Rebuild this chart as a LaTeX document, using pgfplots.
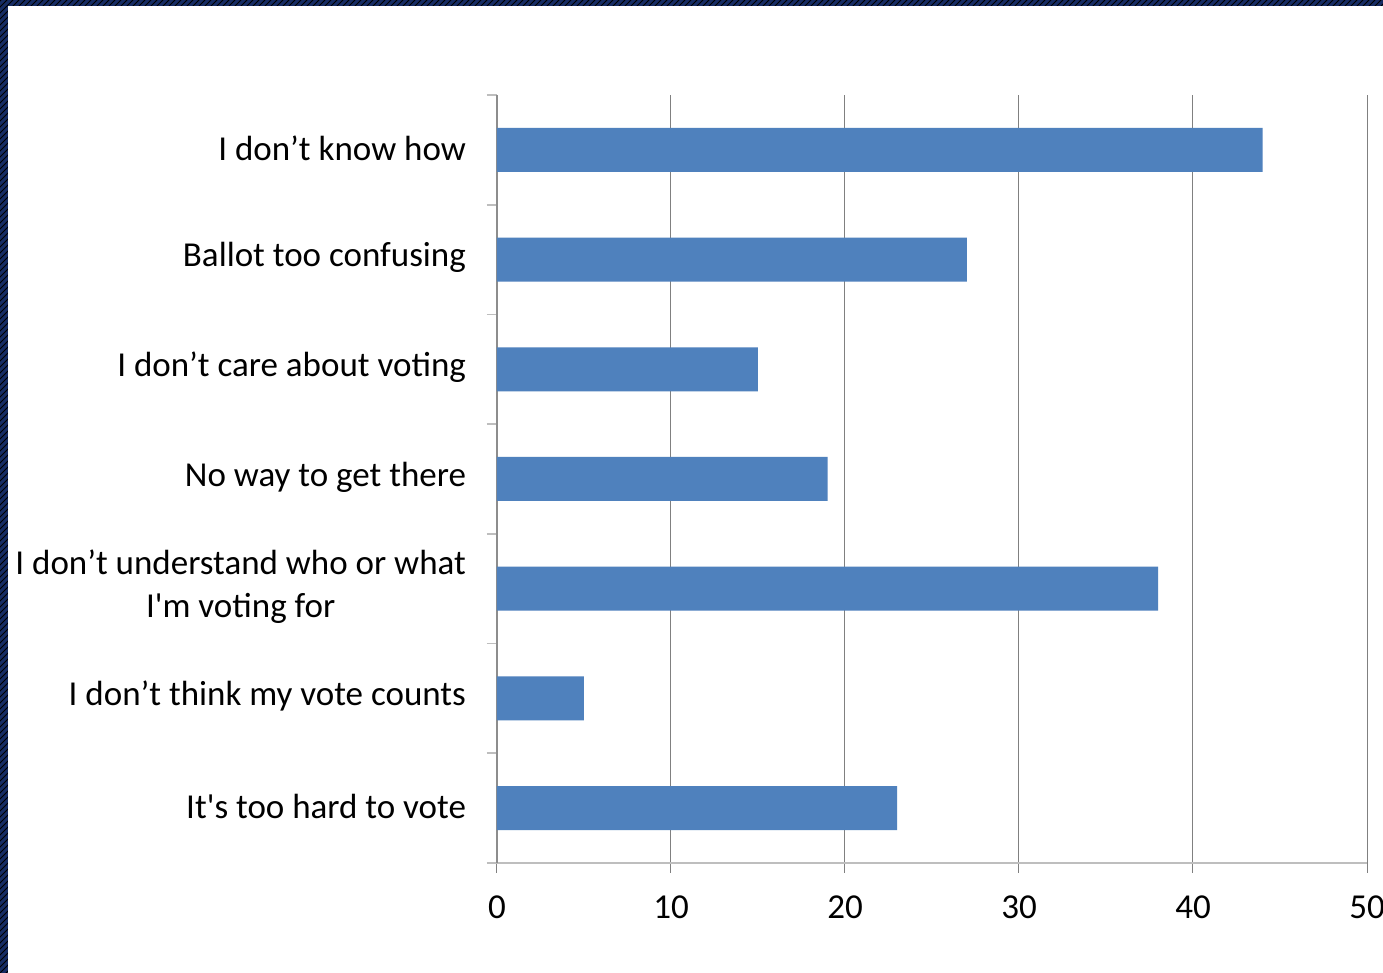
\documentclass[border=0pt]{standalone}
\usepackage{pgfplots}
\pgfplotsset{compat=1.18}
\usetikzlibrary{patterns}
\usepackage{fontspec}
\setmainfont{Carlito}
\definecolor{barblue}{RGB}{79,129,189}
\definecolor{gridgray}{RGB}{128,128,128}
\definecolor{lightgray}{RGB}{190,190,190}
\definecolor{navy}{RGB}{22,44,100}
\begin{document}
\begin{tikzpicture}
\path[use as bounding box] (0,0) rectangle (691.5pt,486.5pt);
\clip (0,0) rectangle (691.5pt,486.5pt);
\fill[navy] (0,0) rectangle (691.5pt,486.5pt);
\fill[pattern=north east lines, pattern color=black] (0,0) rectangle (691.5pt,486.5pt);
\fill[white] (4pt,0) rectangle (691.5pt,483.5pt);
\begin{axis}[
  at={(248.5pt,55pt)}, anchor=south west,
  scale only axis, width=435pt, height=384pt,
  xbar, bar width=22pt,
  xmin=0, xmax=50, ymin=-0.5, ymax=6.5,
  xtick={0,10,20,30,40,50},
  ytick={-0.5,0.5,1.5,2.5,3.5,4.5,5.5,6.5},
  yticklabels={},
  extra y ticks={0,1,2,3,4,5,6},
  extra y tick labels={It\textquotesingle s too hard to vote,
    I don’t think my vote counts,
    {I don’t understand who or what\\I\textquotesingle m voting for},
    No way to get there,
    I don’t care about voting,
    Ballot too confusing,
    I don’t know how},
  extra y tick style={major tick length=0pt, yticklabel style={align=center, xshift=-12pt, yshift=1pt}, ymajorgrids=false},
  ytick style={draw=lightgray, line width=0.8pt},
  xtick style={draw=gridgray, line width=0.5pt},
  major tick length=5pt,
  tick align=outside,
  xmajorgrids, ymajorgrids=false,
  major grid style={draw=gridgray, line width=0.5pt},
  axis x line*=bottom, axis y line*=left,
  x axis line style={draw=lightgray, line width=0.9pt, -},
  y axis line style={draw=gridgray!90, line width=0.7pt, -},
  tick label style={font=\fontsize{17.5}{21.5}\selectfont, text=black},
  xticklabel style={yshift=-8pt},
  /pgf/number format/assume math mode=true,
  clip=false,
]
\addplot[fill=barblue, draw=none] coordinates {
  (23,0) (5,1) (38,2) (19,3) (15,4) (27,5) (44,6)
};
\end{axis}
\end{tikzpicture}
\end{document}
